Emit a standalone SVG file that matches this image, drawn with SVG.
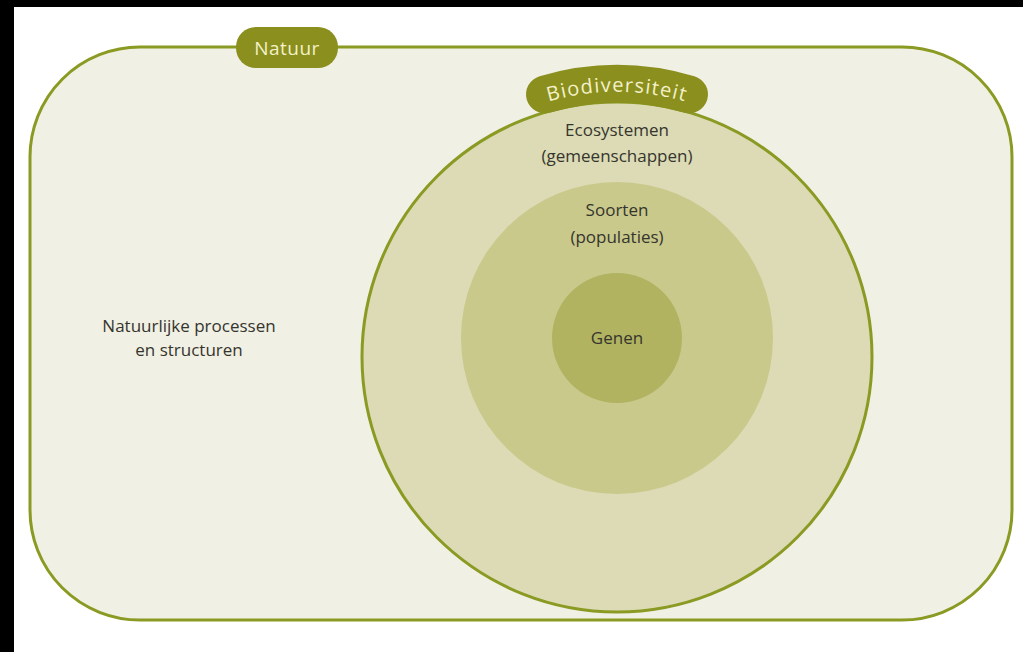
<svg xmlns="http://www.w3.org/2000/svg" width="1023" height="652" viewBox="0 0 1023 652">
<style>
.t{font-family:"Open Sans","Noto Sans",sans-serif;font-size:17px;fill:#35352d;text-anchor:middle}
.lbl{font-family:"Open Sans","Noto Sans",sans-serif;fill:#f4f1c8;text-anchor:middle}
</style>
<defs>
<path id="arcText" d="M 487 129 A 246 246 0 0 1 747 129"/>
</defs>
<rect x="0" y="0" width="1023" height="652" fill="#ffffff"/>
<rect x="0" y="0" width="1023" height="7" fill="#000"/>
<rect x="0" y="0" width="14" height="652" fill="#000"/>
<g id="natuur">
<rect x="30" y="47" width="982" height="573" rx="110" ry="110" fill="#f1f0e5" stroke="#8a9a22" stroke-width="3"/>
<rect x="236" y="27" width="102" height="41" rx="20" fill="#8a8f1e"/>
<text class="lbl" x="287" y="55" font-size="19" letter-spacing="0.5">Natuur</text>
<text class="t" x="189" y="332">Natuurlijke processen</text>
<text class="t" x="189" y="356">en structuren</text>
</g>
<g id="ecosystemen">
<circle cx="617" cy="357" r="255" fill="#dcdbb5" stroke="#8a9a22" stroke-width="3"/>
<text class="t" x="617" y="136">Ecosystemen</text>
<text class="t" x="617" y="162">(gemeenschappen)</text>
</g>
<g id="soorten">
<circle cx="617" cy="338" r="156" fill="#c9c98c"/>
<text class="t" x="617" y="216">Soorten</text>
<text class="t" x="617" y="243">(populaties)</text>
</g>
<g id="genen">
<circle cx="617" cy="338" r="65" fill="#b1b360"/>
<text class="t" x="617" y="344">Genen</text>
</g>
<g id="biodiversiteit">
<path d="M 545 94.4 A 254 254 0 0 1 689 94.4" fill="none" stroke="#8a8f1e" stroke-width="38" stroke-linecap="round"/>
<text class="lbl" font-size="20" letter-spacing="1.2"><textPath href="#arcText" startOffset="50%">Biodiversiteit</textPath></text>
</g>
<g id="connectors"/>
</svg>
